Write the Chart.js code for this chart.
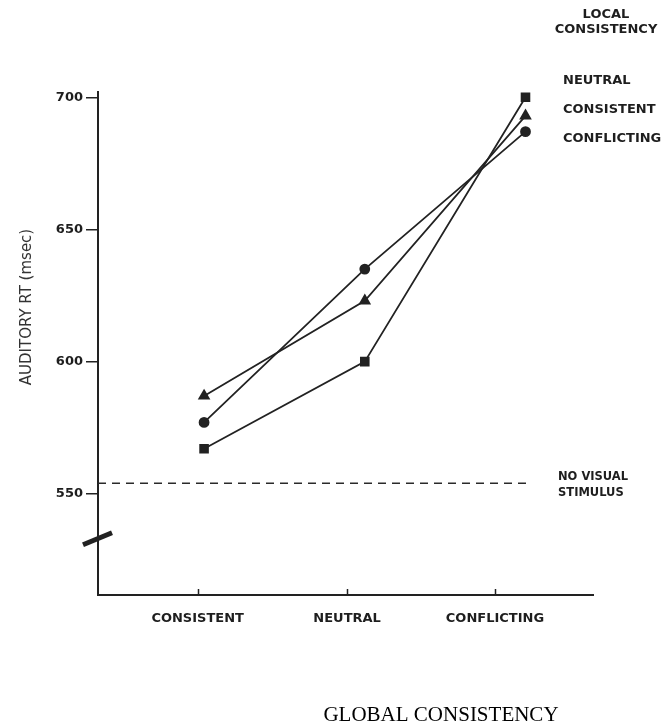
<!DOCTYPE html>
<html>
<head>
<meta charset="utf-8">
<script src="https://cdn.jsdelivr.net/npm/chart.js@4.4.1/dist/chart.umd.min.js"></script>
<style>
  body { margin: 0; background: #fff; }
</style>
</head>
<body>
<canvas id="myChart" width="669" height="727"></canvas>
<script>
var categories = ["CONSISTENT", "NEUTRAL", "CONFLICTING"]
var categoryX = [1, 2, 3]
var tickX = [0.96, 1.89, 2.81]
var neutralLocal = [567, 600, 700]
var consistentLocal = [587, 623, 693]
var conflictingLocal = [577, 635, 687]
var noVisualStimulus = 554
var yTicks = [550, 600, 650, 700]
var legendLabels = ["NEUTRAL", "CONSISTENT", "CONFLICTING"]

var xMin = 0.34
var xMax = 3.42
var ink = "#222"

function points(values) {
    return categoryX.map(function (x, i) { return { x: x, y: values[i] } })
}

// text, axis break and other bits that chart.js has no option for
var annotations = {
    id: "annotations",
    afterDraw: function (chart) {
        var ctx = chart.ctx
        var x = chart.scales.x
        var y = chart.scales.y
        ctx.save()

        // x ticks point up into the plot in the original
        ctx.strokeStyle = ink
        ctx.lineWidth = 1.5
        tickX.forEach(function (v) {
            var px = Math.round(x.getPixelForValue(v)) + 0.5
            ctx.beginPath()
            ctx.moveTo(px, x.top)
            ctx.lineTo(px, x.top - 6)
            ctx.stroke()
        })

        var by = y.getPixelForValue(533)
        ctx.lineWidth = 5
        ctx.beginPath()
        ctx.moveTo(x.left - 15, by + 6)
        ctx.lineTo(x.left + 14, by - 6)
        ctx.stroke()

        ctx.fillStyle = "#1e1e1e"
        ctx.textBaseline = "middle"
        ctx.font = "bold 13px 'DejaVu Sans'"
        ctx.textAlign = "center"
        ctx.fillText("LOCAL", 606, 15)
        ctx.fillText("CONSISTENCY", 606, 30)

        ctx.textAlign = "left"
        var rows = [81, 110, 139]
        legendLabels.forEach(function (label, i) {
            ctx.fillText(label, 563, rows[i])
        })

        ctx.font = "bold 11.5px 'DejaVu Sans'"
        ctx.fillText("NO VISUAL", 558, 477)
        ctx.fillText("STIMULUS", 558, 493)

        ctx.save()
        ctx.translate(27, 307)
        ctx.rotate(-Math.PI / 2)
        ctx.textAlign = "center"
        ctx.font = "15px 'DejaVu Sans'"
        ctx.fillStyle = "#333"
        ctx.fillText("AUDITORY RT (msec)", 0, 0)
        ctx.restore()

        ctx.font = "21px 'Liberation Serif'"
        ctx.fillStyle = "#000"
        ctx.textAlign = "center"
        ctx.fillText("GLOBAL CONSISTENCY", 441, 715)

        ctx.restore()
    }
}

var lineStyle = {
    borderColor: ink,
    backgroundColor: ink,
    pointBackgroundColor: ink,
    pointBorderColor: ink,
    borderWidth: 1.8,
    fill: false,
    tension: 0
}

new Chart("myChart", {
    type: "line",
    data: {
        datasets: [
            Object.assign({ label: legendLabels[0], data: points(neutralLocal), pointStyle: "rect", pointRadius: 5.5 }, lineStyle),
            Object.assign({ label: legendLabels[1], data: points(consistentLocal), pointStyle: "triangle", pointRadius: 5.5 }, lineStyle),
            Object.assign({ label: legendLabels[2], data: points(conflictingLocal), pointStyle: "circle", pointRadius: 4.5 }, lineStyle),
            {
                label: "NO VISUAL STIMULUS",
                data: [{ x: xMin, y: noVisualStimulus }, { x: 3.01, y: noVisualStimulus }],
                borderColor: "#2a2a2a",
                borderWidth: 1.4,
                borderDash: [8, 6],
                pointRadius: 0
            }
        ]
    },
    options: {
        responsive: false,
        animation: false,
        layout: { padding: { left: 0, right: 76, top: 92, bottom: 92 } },
        plugins: {
            legend: { display: false },
            tooltip: { enabled: false }
        },
        scales: {
            x: {
                type: "linear",
                min: xMin,
                max: xMax,
                afterFit: function (s) { s.height = 40 },
                afterBuildTicks: function (s) { s.ticks = tickX.map(function (v) { return { value: v } }) },
                ticks: {
                    callback: function (v, i) { return categories[i] },
                    font: { family: "DejaVu Sans", size: 13, weight: "bold" },
                    color: "#1e1e1e",
                    padding: 16,
                    maxRotation: 0,
                    autoSkip: false
                },
                grid: { drawOnChartArea: false, drawTicks: false },
                border: { color: ink, width: 2 }
            },
            y: {
                min: 511.7,
                max: 702,
                afterFit: function (s) { s.width = 98 },
                afterBuildTicks: function (s) { s.ticks = yTicks.map(function (v) { return { value: v } }) },
                ticks: {
                    font: { family: "DejaVu Sans", size: 13, weight: "bold" },
                    color: "#1e1e1e",
                    padding: 3
                },
                grid: { drawOnChartArea: false, tickLength: 12, color: ink, lineWidth: 1.5 },
                border: { color: ink, width: 2 }
            }
        }
    },
    plugins: [annotations]
})
</script>
</body>
</html>
